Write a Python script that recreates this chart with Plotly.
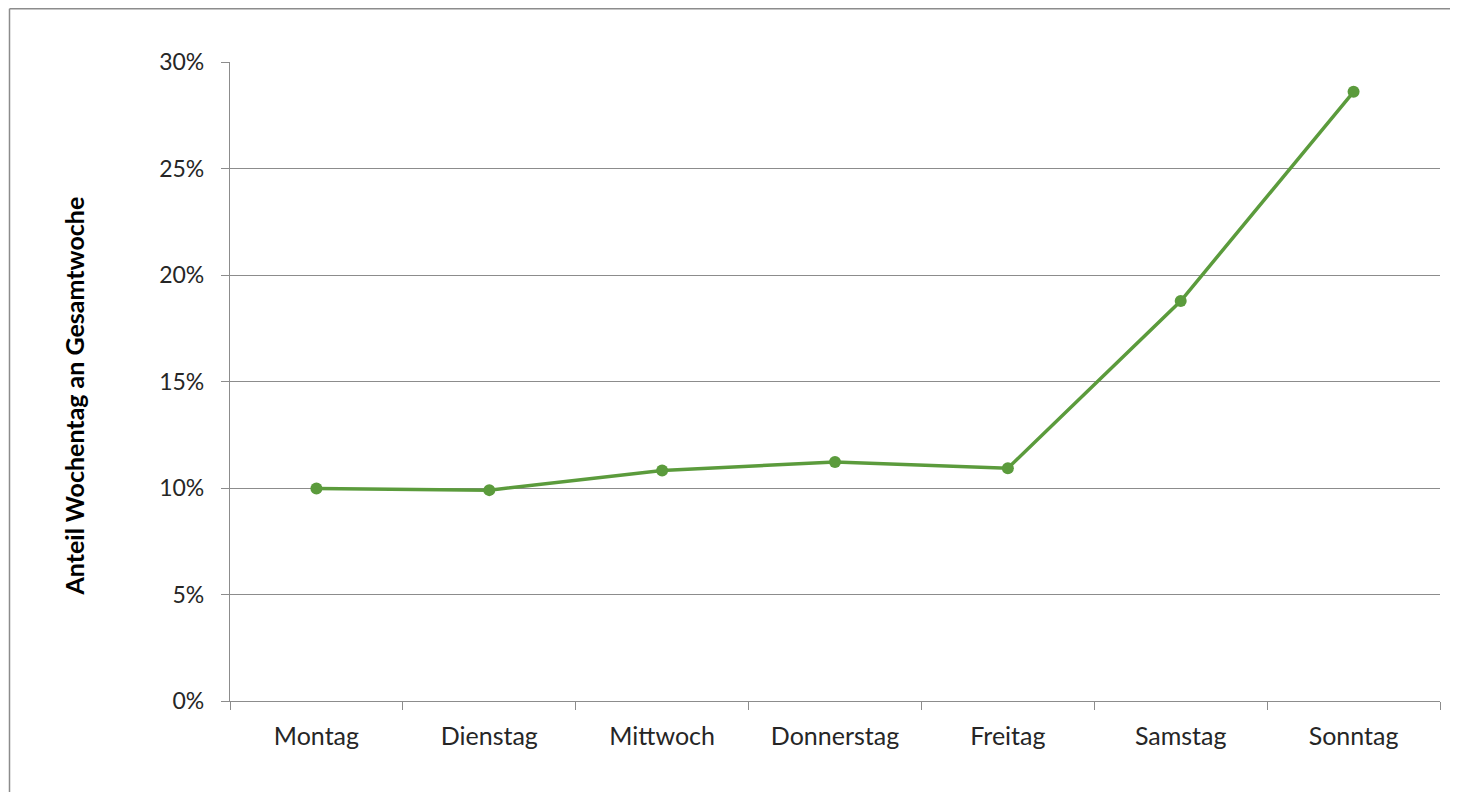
import plotly.graph_objects as go

days = ["Montag", "Dienstag", "Mittwoch", "Donnerstag", "Freitag", "Samstag", "Sonntag"]
shares = [0.0998, 0.0990, 0.1082, 0.1122, 0.1093, 0.1878, 0.2860]

green = "#5b9b3c"
grey = "#8c8c8c"
font = "Lato, 'Open Sans', sans-serif"

W, H = 1450, 784
L, R, T, B = 222, 18, 54, 91
pw, ph = W - L - R, H - T - B

fig = go.Figure()
fig.add_trace(go.Scatter(
    x=days, y=shares, mode="lines+markers",
    line=dict(color=green, width=3.5),
    marker=dict(color=green, size=12),
    showlegend=False, cliponaxis=False,
))

bx = (1.5 - L) / pw
by = (ph + T - 0.75) / ph

fig.update_layout(
    width=W, height=H,
    margin=dict(l=L, r=R, t=T, b=B),
    paper_bgcolor="white", plot_bgcolor="white",
    font=dict(family=font, size=24, color="#262626"),
    xaxis=dict(
        type="category", tickson="boundaries", range=[-0.5, 6.5],
        showline=True, linecolor=grey, linewidth=1.3,
        ticks="outside", ticklen=8, tickcolor=grey, tickwidth=1.3,
        showgrid=False, ticklabelstandoff=13,
        tickfont=dict(family=font, size=25, color="#262626"),
    ),
    yaxis=dict(
        range=[0, 0.30], dtick=0.05, tickformat=".0%",
        showline=True, linecolor=grey, linewidth=1.3,
        ticks="outside", ticklen=8, tickcolor=grey, tickwidth=1.3,
        showgrid=True, gridcolor=grey, gridwidth=1,
        zeroline=False, ticklabelstandoff=12,
        tickfont=dict(family=font, size=23, color="#262626"),
    ),
    annotations=[dict(
        text="<b>Anteil Wochentag an Gesamtwoche</b>",
        xref="paper", yref="paper", x=0, y=0.5,
        xanchor="center", yanchor="middle",
        xshift=-157, yshift=-15, textangle=-90, showarrow=False,
        font=dict(family=font, size=25, color="#000000"),
    )],
    shapes=[
        dict(type="line", xref="paper", yref="paper",
             x0=bx, x1=1.1, y0=by, y1=by,
             line=dict(color=grey, width=1.5), layer="below"),
        dict(type="line", xref="paper", yref="paper",
             x0=bx, x1=bx, y0=by, y1=-0.3,
             line=dict(color=grey, width=1.5), layer="below"),
    ],
)

fig.write_html("out.html")
